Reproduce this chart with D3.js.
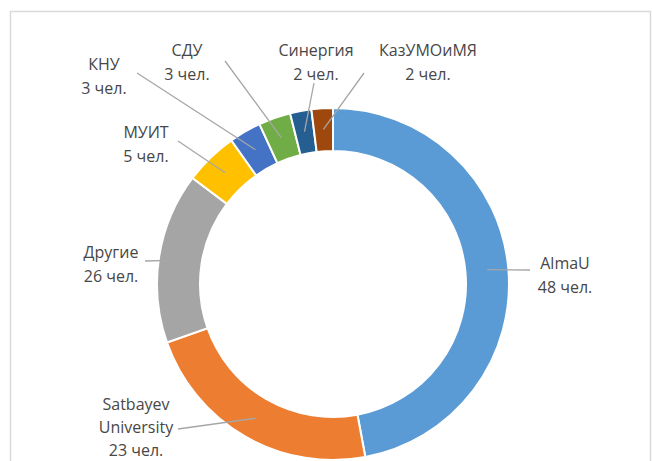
<!DOCTYPE HTML>
<html>
	<head>
		<title>Donut chart</title>
		<meta charset="UTF8">
		<script src="https://d3js.org/d3.v7.min.js"></script>
		<style>
			body
			{
				margin: 0;
				padding: 0;
				background-color: white;
			}
			svg
			{
				display: block;
			}
			.lbl
			{
				font-family: "Open Sans", sans-serif;
				font-size: 16px;
				fill: #474747;
			}
		</style>
	</head>
	<body>
		<svg></svg>
	</body>
	<script>
		const w = 652;
		const h = 461;

		// data
		const names = ["AlmaU", "Satbayev University", "Другие", "МУИТ", "КНУ", "СДУ", "Синергия", "КазУМОиМЯ"];
		const counts = [48, 23, 26, 5, 3, 3, 2, 2];   // numbers printed on the labels
		const shares = [48, 23, 16, 5, 3, 3, 2, 2];   // arc sizes as drawn (Другие is drawn smaller than its label)
		const colors = ["#5b9bd5", "#ed7d31", "#a5a5a5", "#ffc000", "#4472c4", "#70ad47", "#255e91", "#9e480e"];

		// label placement: text centre x, first line y, line gap, leader start
		const labelPos = [
			{x: 565, y: 263, gap: 23.5, lx: 530, ly: 270},
			{x: 136, y: 404, gap: 23, lx: 178, ly: 429},
			{x: 111, y: 252, gap: 23.5, lx: 145, ly: 261},
			{x: 146, y: 132, gap: 23.5, lx: 178, ly: 141},
			{x: 104, y: 64, gap: 23.5, lx: 137, ly: 73},
			{x: 187, y: 50, gap: 23.5, lx: 225, ly: 61},
			{x: 316, y: 50, gap: 23.5, lx: 314, ly: 83},
			{x: 428, y: 50, gap: 23.5, lx: 364, ly: 73}
		];

		const cx = 333, cy = 284;
		const rOuter = 176, rInner = 133;

		const svg = d3.select("svg")
			.attr("width", w)
			.attr("height", h);

		// light frame round the chart area
		svg.append("rect")
			.attr("x", 10.5)
			.attr("y", 11.5)
			.attr("width", 640)
			.attr("height", 470)
			.attr("fill", "white")
			.attr("stroke", "#dadada")
			.attr("stroke-width", 1.5);

		const data = names.map((n, i) => ({name: n, count: counts[i], share: shares[i], color: colors[i], pos: labelPos[i]}));

		const pie = d3.pie()
			.sort(null)
			.value(d => d.share);

		const arc = d3.arc()
			.innerRadius(rInner)
			.outerRadius(rOuter);

		const midArc = d3.arc()
			.innerRadius(155)
			.outerRadius(155);

		const arcs = pie(data);

		const g = svg.append("g")
			.attr("transform", "translate(" + cx + "," + cy + ")");

		g.selectAll("path")
			.data(arcs)
			.enter()
			.append("path")
			.attr("d", arc)
			.attr("fill", d => d.data.color)
			.attr("stroke", "white")
			.attr("stroke-width", 2);

		// leader lines
		g.selectAll("line")
			.data(arcs)
			.enter()
			.append("line")
			.attr("x1", d => d.data.pos.lx - cx)
			.attr("y1", d => d.data.pos.ly - cy)
			.attr("x2", d => midArc.centroid(d)[0])
			.attr("y2", d => midArc.centroid(d)[1])
			.attr("stroke", "#a6a6a6")
			.attr("stroke-width", 1.3);

		// labels
		const labels = svg.selectAll("text.lbl")
			.data(data)
			.enter()
			.append("text")
			.attr("class", "lbl")
			.attr("text-anchor", "middle")
			.attr("dominant-baseline", "central");

		labels.each(function (d) {
			let lines = d.name === "Satbayev University" ? ["Satbayev", "University"] : [d.name];
			lines.push(d.count + " чел.");
			d3.select(this).selectAll("tspan")
				.data(lines)
				.enter()
				.append("tspan")
				.attr("x", d.pos.x)
				.attr("y", (t, i) => d.pos.y + i * d.pos.gap)
				.text(t => t);
		});
	</script>
</html>
